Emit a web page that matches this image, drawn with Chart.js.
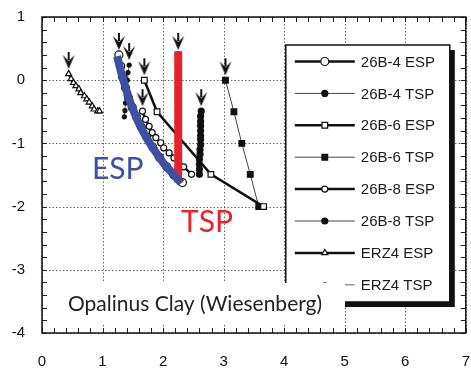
<!DOCTYPE html>
<html>
<head>
<meta charset="utf-8">
<script src="https://cdn.jsdelivr.net/npm/chart.js@4"></script>
<style>
  html, body { margin: 0; padding: 0; background: #fff; }
</style>
</head>
<body>
<canvas id="chart" width="471" height="369"></canvas>
<script>
// axis ranges / ticks
const xTicks = [0, 1, 2, 3, 4, 5, 6, 7];
const yTicks = [-4, -3, -2, -1, 0, 1];

const seriesNames = ['26B-4 ESP', '26B-4 TSP', '26B-6 ESP', '26B-6 TSP', '26B-8 ESP', '26B-8 TSP', 'ERZ4 ESP', 'ERZ4 TSP'];

// 26B-4
const b4EspX = [1.27, 1.30, 1.33, 1.38, 1.43, 1.49, 1.56, 1.64, 1.73, 1.83, 1.94, 2.06, 2.18, 2.32];
const b4EspY = [0.40, 0.22, 0.05, -0.12, -0.28, -0.43, -0.58, -0.74, -0.90, -1.06, -1.22, -1.37, -1.50, -1.62];
const b4TspX = [2.25, 2.25, 2.25, 2.25, 2.25, 2.25, 2.25, 2.25, 2.25, 2.25, 2.25, 2.25, 2.25, 2.25];
const b4TspY = [0.40, 0.25, 0.10, -0.05, -0.20, -0.35, -0.50, -0.65, -0.80, -0.95, -1.10, -1.25, -1.40, -1.55];
// 26B-6
const b6EspX = [1.69, 1.90, 2.79, 3.66];
const b6EspY = [0.00, -0.50, -1.49, -2.00];
const b6TspX = [3.03, 3.17, 3.30, 3.44, 3.58];
const b6TspY = [0.00, -0.50, -1.00, -1.49, -2.00];
// 26B-8
const b8EspX = [1.66, 1.71, 1.77, 1.82, 1.88, 1.96, 2.01, 2.10, 2.18, 2.26, 2.34, 2.47];
const b8EspY = [-0.49, -0.62, -0.73, -0.83, -0.91, -0.99, -1.07, -1.15, -1.23, -1.31, -1.37, -1.49];
const b8TspX = [2.63, 2.62, 2.62, 2.62, 2.62, 2.62, 2.62, 2.62, 2.61, 2.61, 2.60, 2.60, 2.60, 2.60];
const b8TspY = [-0.49, -0.57, -0.65, -0.72, -0.80, -0.88, -0.94, -1.02, -1.10, -1.17, -1.25, -1.33, -1.41, -1.49];
// ERZ4
const erzEspX = [0.44, 0.48, 0.52, 0.56, 0.61, 0.64, 0.70, 0.74, 0.78, 0.83, 0.86, 0.92, 0.95];
const erzEspY = [0.10, 0.02, -0.04, -0.09, -0.14, -0.20, -0.25, -0.30, -0.35, -0.41, -0.46, -0.49, -0.49];
const erzTspX = [1.44, 1.42, 1.41, 1.40, 1.39, 1.38, 1.37, 1.36];
const erzTspY = [0.24, 0.12, 0.00, -0.12, -0.24, -0.36, -0.48, -0.58];

// hand drawn highlight lines on top
const espLineX = [1.24, 1.30, 1.36, 1.43, 1.51, 1.62, 1.75, 1.88, 2.03, 2.17, 2.30];
const espLineY = [0.38, 0.15, -0.05, -0.27, -0.48, -0.72, -0.95, -1.14, -1.34, -1.49, -1.63];
const tspLineX = [2.25, 2.25];
const tspLineY = [0.46, -1.62];

const zip = (xs, ys) => xs.map((x, i) => ({ x: x, y: ys[i] }));

const series = [
  { x: b4EspX, y: b4EspY, style: 'circle', r: 4, fill: '#fff', line: 2.5, lineColor: '#111' },
  { x: b4TspX, y: b4TspY, style: 'circle', r: 3, fill: '#111', line: 1, lineColor: '#444' },
  { x: b6EspX, y: b6EspY, style: 'rect', r: 4, fill: '#fff', line: 2.5, lineColor: '#111' },
  { x: b6TspX, y: b6TspY, style: 'rect', r: 4, fill: '#111', line: 1, lineColor: '#444' },
  { x: b8EspX, y: b8EspY, style: 'circle', r: 3, fill: '#fff', line: 2.5, lineColor: '#111' },
  { x: b8TspX, y: b8TspY, style: 'circle', r: 3, fill: '#111', line: 1, lineColor: '#444' },
  { x: erzEspX, y: erzEspY, style: 'triangle', r: 3.5, fill: '#fff', line: 2.5, lineColor: '#111' },
  { x: erzTspX, y: erzTspY, style: 'circle', r: 2, fill: '#111', line: 1, lineColor: '#666' }
];

// downward barbed arrow marker, tip sits a few px above the start point
function makeArrow() {
  const c = document.createElement('canvas');
  c.width = 14; c.height = 48;
  const g = c.getContext('2d');
  g.fillStyle = '#111';
  g.fillRect(6, 2, 2, 8);
  g.beginPath();
  g.moveTo(1, 5); g.lineTo(7, 11); g.lineTo(13, 5); g.lineTo(7, 19);
  g.closePath();
  g.fill();
  return c;
}
const arrowImg = makeArrow();

// first datasets are painted last (on top)
const datasets = [
  {
    label: 'ESP line', data: zip(espLineX, espLineY), showLine: true,
    borderColor: '#3f4fa1', borderWidth: 8, pointRadius: 0, tension: 0.35, borderCapStyle: 'butt'
  },
  {
    label: 'TSP line', data: zip(tspLineX, tspLineY), showLine: true,
    borderColor: '#e5232a', borderWidth: 8, pointRadius: 0, borderCapStyle: 'butt'
  },
  {
    label: 'arrows', data: series.map(s => ({ x: s.x[0], y: s.y[0] })),
    pointStyle: arrowImg, showLine: false
  }
];
series.forEach((s, i) => {
  datasets.push({
    label: seriesNames[i],
    data: zip(s.x, s.y),
    showLine: true,
    borderColor: s.lineColor,
    borderWidth: s.line,
    pointStyle: s.style,
    pointRadius: s.r,
    pointBackgroundColor: s.fill,
    pointBorderColor: '#111',
    pointBorderWidth: 1.2
  });
});

const tickFont = { family: '"Liberation Sans", Arial, sans-serif', size: 15 };

// dotted grid, frame and inward minor ticks
const framePlugin = {
  id: 'frame',
  beforeDatasetsDraw(chart) {
    const { ctx, chartArea: a, scales: { x, y } } = chart;
    ctx.save();
    ctx.strokeStyle = '#666';
    ctx.lineWidth = 1;
    ctx.setLineDash([1.5, 2]);
    xTicks.forEach(v => {
      const px = Math.round(x.getPixelForValue(v)) + 0.5;
      ctx.beginPath(); ctx.moveTo(px, a.top); ctx.lineTo(px, a.bottom); ctx.stroke();
    });
    yTicks.forEach(v => {
      const py = Math.round(y.getPixelForValue(v)) + 0.5;
      ctx.beginPath(); ctx.moveTo(a.left, py); ctx.lineTo(a.right, py); ctx.stroke();
    });
    ctx.setLineDash([]);
    ctx.strokeStyle = '#222';
    ctx.lineWidth = 1;
    for (let v = xTicks[0]; v <= xTicks[xTicks.length - 1] + 1e-6; v += 0.2) {
      const px = Math.round(x.getPixelForValue(v)) + 0.5;
      ctx.beginPath();
      ctx.moveTo(px, a.bottom); ctx.lineTo(px, a.bottom - 5);
      ctx.moveTo(px, a.top); ctx.lineTo(px, a.top + 5);
      ctx.stroke();
    }
    for (let v = yTicks[0]; v <= yTicks[yTicks.length - 1] + 1e-6; v += 0.2) {
      const py = Math.round(y.getPixelForValue(v)) + 0.5;
      ctx.beginPath();
      ctx.moveTo(a.left, py); ctx.lineTo(a.left + 5, py);
      ctx.moveTo(a.right, py); ctx.lineTo(a.right - 5, py);
      ctx.stroke();
    }
    ctx.lineWidth = 1.5;
    ctx.strokeStyle = '#111';
    ctx.strokeRect(a.left, a.top, a.right - a.left, a.bottom - a.top);
    ctx.restore();
  }
};

// boxed legend inside the plot + pasted labels
const overlayPlugin = {
  id: 'overlay',
  afterDraw(chart) {
    const { ctx, chartArea: a } = chart;
    ctx.save();
    // legend box with drop shadow
    const lx = a.right - 180, ly = a.top + 28, lw = 164, lh = 257;
    ctx.fillStyle = '#111';
    ctx.fillRect(lx + 5, ly + 5, lw, lh);
    ctx.fillStyle = '#fff';
    ctx.fillRect(lx, ly, lw, lh);
    ctx.strokeStyle = '#111';
    ctx.lineWidth = 1.5;
    ctx.strokeRect(lx, ly, lw, lh);
    ctx.font = '15px "Liberation Sans", Arial, sans-serif';
    ctx.textBaseline = 'middle';
    ctx.textAlign = 'left';
    series.forEach((s, i) => {
      const ry = ly + 16.5 + i * 31.9;
      ctx.strokeStyle = s.lineColor;
      ctx.lineWidth = s.line;
      ctx.beginPath(); ctx.moveTo(lx + 9, ry); ctx.lineTo(lx + 69, ry); ctx.stroke();
      ctx.fillStyle = s.fill;
      ctx.strokeStyle = '#111';
      ctx.lineWidth = 1.2;
      Chart.helpers.drawPoint(ctx, { pointStyle: s.style, radius: s.r, rotation: 0, borderWidth: 1.2 }, lx + 39, ry);
      ctx.fillStyle = '#1a1a1a';
      ctx.fillText(seriesNames[i], lx + 75, ry + 1);
    });

    // white caption box
    ctx.fillStyle = '#fff';
    ctx.fillRect(a.left + 8, a.bottom - 50, 295, 40);
    ctx.fillStyle = '#222';
    ctx.font = '21px Lato, "Noto Sans", sans-serif';
    ctx.fillText('Opalinus Clay (Wiesenberg)', a.left + 26, a.bottom - 29);

    ctx.font = '30px Lato, "Noto Sans", sans-serif';
    ctx.fillStyle = '#3f4fa1';
    ctx.fillText('ESP', 92, 169);
    ctx.fillStyle = '#e5232a';
    ctx.fillText('TSP', 181, 222);
    ctx.restore();
  }
};

new Chart(document.getElementById('chart'), {
  type: 'scatter',
  data: { datasets: datasets },
  options: {
    responsive: false,
    animation: false,
    events: [],
    layout: { padding: { top: 17, right: 3, left: 0, bottom: 0 } },
    plugins: { legend: { display: false }, tooltip: { enabled: false } },
    scales: {
      x: {
        type: 'linear', min: 0, max: 7,
        grid: { display: false, drawTicks: false },
        border: { display: false },
        ticks: { stepSize: 1, font: tickFont, color: '#111', padding: 20, maxRotation: 0 },
        afterFit(scale) { scale.height = 36; scale.paddingRight = 0; scale.paddingLeft = 0; }
      },
      y: {
        type: 'linear', min: -4, max: 1,
        grid: { display: false, drawTicks: false },
        border: { display: false },
        ticks: { stepSize: 1, font: tickFont, color: '#111', padding: 17 },
        afterFit(scale) { scale.width = 42; scale.paddingTop = 0; scale.paddingBottom = 0; }
      }
    }
  },
  plugins: [framePlugin, overlayPlugin]
});
</script>
</body>
</html>
